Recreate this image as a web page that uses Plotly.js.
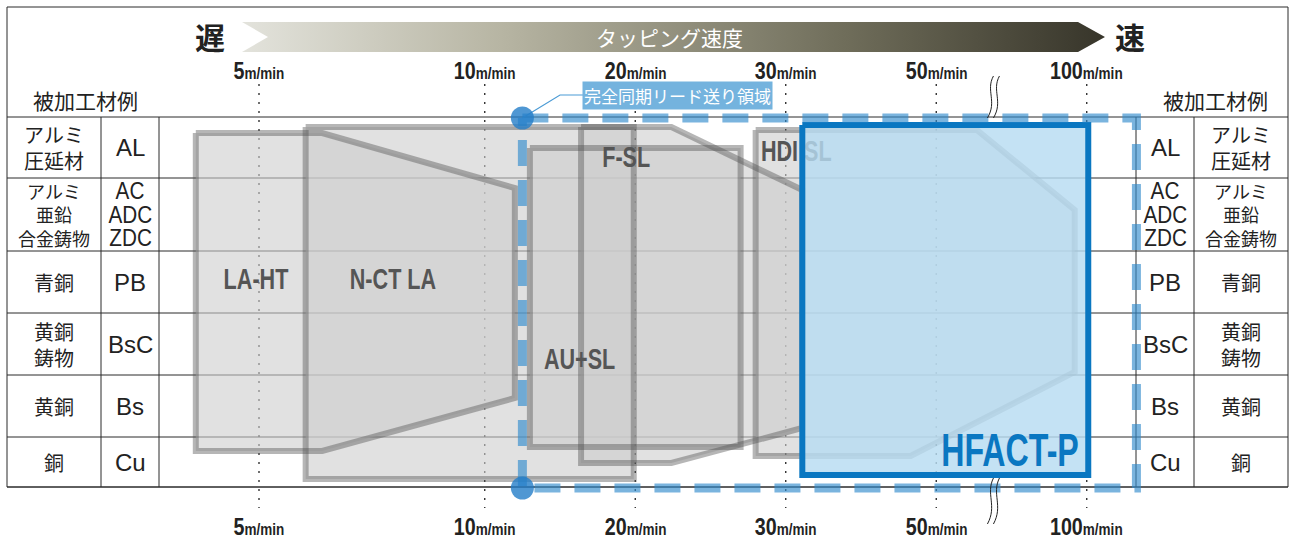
<!DOCTYPE html>
<html>
<head>
<meta charset="utf-8">
<script src="https://cdn.plot.ly/plotly-3.0.1.min.js"></script>
<style>
  html, body { margin: 0; padding: 0; background: #fff; }
  #chart { width: 1293px; height: 542px; }
</style>
</head>
<body>
<div id="chart"></div>
<script>
// Speed scale: tick labels and their position on the speed axis
const speedLabels = ['5', '10', '20', '30', '50', '100'];
const speedPos = [0, 1.5, 2.5, 3.5, 4.5, 5.5];
const breakPos = 4.88;   // scale break between 50 and 100

// Material rows (left/right table)
const rowNames = ['アルミ\n圧延材', 'アルミ\n亜鉛\n合金鋳物', '青銅', '黄銅\n鋳物', '黄銅', '銅'];
const rowCodes = ['AL', 'AC\nADC\nZDC', 'PB', 'BsC', 'Bs', 'Cu'];
const rowEdges = [117, 178, 251, 313, 375, 437, 487];

// Tool application ranges (x = speed position, y = depth on the chart)
const toolNames = ['LA-HT', 'N-CT LA', 'AU+SL', 'F-SL', 'HDI SL'];
const toolX = [
  [-0.42, 0.42, 1.70, 1.70, 0.42, -0.42],
  [0.31, 2.49, 2.49, 0.31],
  [1.80, 3.20, 3.20, 1.80],
  [2.14, 2.74, 3.61, 3.61, 2.74, 2.14],
  [3.30, 4.77, 5.42, 5.42, 4.33, 3.30]
];
const toolY = [
  [133, 133, 188, 398, 451, 451],
  [127, 127, 479, 479],
  [148, 148, 447, 447],
  [127, 127, 190, 428, 463, 463],
  [130, 130, 210, 372, 456, 456]
];
const toolLabelX = [-0.02, 0.89, 2.13, 2.44, 3.57];
const toolLabelY = [282, 282, 362, 160, 154];

// Featured tool
const hfactName = 'HFACT-P';
const hfactX = [3.61, 5.51, 5.51, 3.61];
const hfactY = [125, 125, 475, 475];
const hfactLabel = [4.99, 455];

// Fully synchronised lead feed zone
const syncName = '完全同期リード送り領域';
const syncX = [1.75, 5.83];
const syncY = [118, 488];

// ---- page geometry helpers ----
const W = 1293, H = 542;
const X0 = 259, UNIT = 150.5;
const X = px => (px - X0) / UNIT;

const BOLD = '"Liberation Sans", Arial, sans-serif';
const JP = '"Noto Sans CJK JP", "Noto Sans", sans-serif';
const SANS = '"Liberation Sans", Arial, sans-serif';

const COLORS = {
    line: '#2b2b2b',
    grayFill: 'rgba(205,205,205,0.6)',
    grayLine: 'rgba(80,80,80,0.42)',
    grayText: '#555555',
    blue: '#0a77c1',
    blueFill: 'rgba(183,220,242,0.82)',
    syncLine: 'rgba(50,140,205,0.65)',
    syncDot: 'rgba(35,125,200,0.8)',
    syncLabel: '#74b3de'
};

// horizontal squeeze applied to texts drawn in condensed type
const condenseBy = {};
toolNames.forEach(n => condenseBy[n] = 0.72);
condenseBy[hfactName] = 0.7;
speedLabels.forEach(s => condenseBy[s + 'm/min'] = 0.82);
['AC', 'ADC', 'ZDC'].forEach(c => condenseBy[c] = 0.9);

const traces = [];

// speed arrow
traces.push({
    x: [X(242), X(1078), X(1105), X(1078), X(242), X(268), X(242)],
    y: [22, 22, 37, 52, 52, 37, 22],
    mode: 'lines', fill: 'toself', line: {width: 0, color: 'rgba(0,0,0,0)'},
    fillgradient: {
        type: 'horizontal',
        colorscale: [[0, '#e3e3dc'], [0.3, '#b7b5a3'], [0.7, '#6f6d5a'], [1, '#37352a']]
    },
    hoverinfo: 'skip'
});

// gray tool fills, then outlines
toolNames.forEach((n, i) => {
    traces.push({
        x: toolX[i], y: toolY[i], mode: 'lines', fill: 'toself',
        fillcolor: COLORS.grayFill, line: {width: 0}, hoverinfo: 'skip'
    });
});
toolNames.forEach((n, i) => {
    traces.push({
        x: toolX[i].concat([toolX[i][0]]), y: toolY[i].concat([toolY[i][0]]),
        mode: 'lines', line: {color: COLORS.grayLine, width: 6}, hoverinfo: 'skip'
    });
});
traces.push({
    x: toolLabelX, y: toolLabelY, text: toolNames, mode: 'text',
    textposition: 'middle center',
    textfont: {family: BOLD, size: 30, color: COLORS.grayText, weight: 700},
    hoverinfo: 'skip'
});

// HFACT-P
traces.push({
    x: hfactX.concat([hfactX[0]]), y: hfactY.concat([hfactY[0]]),
    mode: 'lines', fill: 'toself', fillcolor: COLORS.blueFill,
    line: {color: COLORS.blue, width: 6}, hoverinfo: 'skip'
});
traces.push({
    x: [hfactLabel[0]], y: [hfactLabel[1]], text: [hfactName], mode: 'text',
    textposition: 'middle center',
    textfont: {family: BOLD, size: 46, color: COLORS.blue, weight: 700},
    hoverinfo: 'skip'
});

// sync zone
traces.push({
    x: [syncX[0], syncX[1], syncX[1], syncX[0], syncX[0]],
    y: [syncY[0], syncY[0], syncY[1], syncY[1], syncY[0]],
    mode: 'lines', line: {color: COLORS.syncLine, width: 9, dash: '26px,14px'},
    hoverinfo: 'skip'
});
traces.push({
    x: [syncX[0], X(560), X(583)], y: [syncY[0], 95, 95],
    mode: 'lines', line: {color: '#4b9bd5', width: 1.2}, hoverinfo: 'skip'
});
traces.push({
    x: [syncX[0], syncX[0]], y: syncY, mode: 'markers',
    marker: {size: 23, color: COLORS.syncDot}, hoverinfo: 'skip'
});

// ---- shapes: table frame, row lines, dotted speed lines, breaks ----
const shapes = [];
const line = (x0, y0, x1, y1, extra) => Object.assign({
    type: 'line', xref: 'x', yref: 'y', x0, y0, x1, y1,
    line: {color: COLORS.line, width: 1}, layer: 'below'
}, extra || {});

shapes.push({type: 'rect', xref: 'x', yref: 'y', x0: X(7), x1: X(1288), y0: 7, y1: 487,
    line: {color: COLORS.line, width: 1}, layer: 'below'});
rowEdges.forEach(y => shapes.push(line(X(7), y, X(1288), y)));
[101, 159, 1136, 1194].forEach(px => shapes.push(line(X(px), rowEdges[0], X(px), rowEdges[6])));
speedPos.forEach(p => shapes.push(line(p, 84, p, 508,
    {line: {color: '#222', width: 1.3, dash: '2px,7px'}})));

function wave(u, y0, y1) {
    const d = 1 / UNIT, h = y1 - y0;
    return `M${u + 3 * d},${y0} C${u - 5 * d},${y0 + h * 0.35} ${u + 7 * d},${y0 + h * 0.6} ${u - 3 * d},${y1}`;
}
[[76, 118], [478, 524]].forEach(([a, b]) => {
    [-3, 3].forEach(off => shapes.push({
        type: 'path', xref: 'x', yref: 'y', layer: 'above',
        path: wave(breakPos + off / UNIT, a, b), line: {color: '#222', width: 1}
    }));
});

// ---- annotations ----
const annotations = [];
const txt = (x, y, text, font, extra) => Object.assign({
    x, y, xref: 'x', yref: 'y', text, showarrow: false,
    xanchor: 'center', yanchor: 'middle', font
}, extra || {});

// material names: one block per cell, line spacing comes from the font size
function nameCell(text, pxCenter, top, bottom) {
    const n = text.split('\n').length;
    const f = {family: JP, size: n === 3 ? 18 : 20, color: '#222'};
    annotations.push(txt(X(pxCenter), (top + bottom) / 2, text.split('\n').join('<br>'), f));
}
// material codes: stacked lines placed one by one
function codeCell(text, pxCenter, top, bottom) {
    const lines = text.split('\n');
    const mid = (top + bottom) / 2;
    lines.forEach((t, i) => {
        const f = {family: SANS, size: lines.length === 3 ? 23 : 24, color: '#222'};
        annotations.push(txt(X(pxCenter), mid + (i - (lines.length - 1) / 2) * 23.5, t, f));
    });
}

rowNames.forEach((n, i) => {
    const top = rowEdges[i], bottom = rowEdges[i + 1];
    nameCell(n, 54, top, bottom);
    codeCell(rowCodes[i], 130, top, bottom);
    codeCell(rowCodes[i], 1165, top, bottom);
    nameCell(n, 1241, top, bottom);
});

annotations.push(txt(X(85), 100, '被加工材例', {family: JP, size: 21, color: '#222'}));
annotations.push(txt(X(1215), 100, '被加工材例', {family: JP, size: 21, color: '#222'}));
annotations.push(txt(X(210), 36, '<b>遅</b>', {family: JP, size: 30, color: '#222'}));
annotations.push(txt(X(1130), 36, '<b>速</b>', {family: JP, size: 30, color: '#222'}));
annotations.push(txt(X(669), 37, 'タッピング速度', {family: JP, size: 21, color: '#fff'}));
annotations.push(txt(X(677.5), 95, syncName, {family: JP, size: 17, color: '#fff'},
    {bgcolor: COLORS.syncLabel, borderpad: 1}));

speedLabels.forEach((s, i) => {
    const label = `<b>${s}<span style="font-size:16.5px">m/min</span></b>`;
    const f = {family: BOLD, size: 24, color: '#222'};
    annotations.push(txt(speedPos[i], 70.5, label, f));
    annotations.push(txt(speedPos[i], 526, label, f));
});

const layout = {
    width: W, height: H,
    margin: {l: 0, r: 0, t: 0, b: 0},
    paper_bgcolor: '#fff', plot_bgcolor: '#fff',
    showlegend: false,
    xaxis: {range: [X(0), X(W)], visible: false, fixedrange: true},
    yaxis: {range: [H, 0], visible: false, fixedrange: true},
    shapes, annotations
};

// squeeze a text horizontally around its own centre (no condensed face installed)
function condense(el, s) {
    const b = el.getBBox();
    const cx = b.x + b.width / 2;
    const prev = el.getAttribute('transform') || '';
    el.setAttribute('transform', (prev + ` matrix(${s},0,0,1,${cx * (1 - s)},0)`).trim());
}

Plotly.newPlot('chart', traces, layout, {staticPlot: true, displayModeBar: false}).then(gd => {
    gd.querySelectorAll('text').forEach(t => {
        const s = condenseBy[t.textContent];
        if (s) condense(t, s);
    });
});
</script>
</body>
</html>
